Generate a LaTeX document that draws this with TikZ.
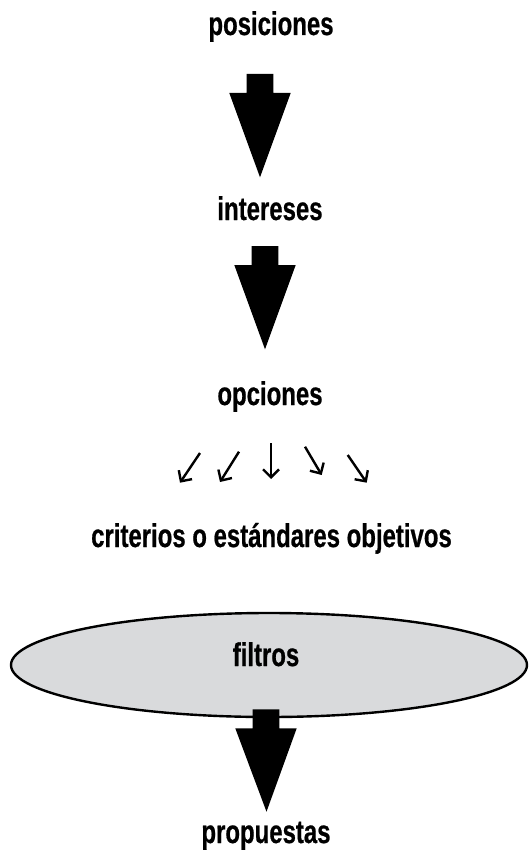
\documentclass[tikz,border=0pt]{standalone}
\usepackage{fontspec}
\newfontfamily\labelfont{Liberation Sans}[FakeStretch=0.73,FakeBold=0.6]
\usetikzlibrary{arrows.meta,calc,shapes.geometric}
\definecolor{filtgray}{RGB}{217,218,220}
\tikzset{
  lbl/.style={font=\labelfont\bfseries\fontsize{32.8}{36}\selectfont, inner sep=0pt, anchor=base},
  smallarr/.style={line width=2.4pt, -{Straight Barb[length=8pt,width=16pt]}},
  filtbox/.style={ellipse, draw, line width=2.4pt, fill=filtgray, minimum width=516pt, minimum height=104pt, inner sep=0pt}
}
% block arrow: top of shaft at #1, tip at #2
\newcommand{\blockarrow}[2]{%
  \fill ($(#1)+(-13.3,0)$) -- ($(#1)+(13.3,0)$) -- ($(#1)+(13.3,19)$) -- ($(#1)+(30.7,19)$)
    -- (#2) -- ($(#1)+(-30.7,19)$) -- ($(#1)+(-13.3,19)$) -- cycle;}

\begin{document}
\begin{tikzpicture}[x=1pt, y=-1pt]
\useasboundingbox (0,0) rectangle (529,850);

% Labels
\node[lbl] (pos) at (271,35) {posiciones};
\node[lbl] (int) at (270,220) {intereses};
\node[lbl] (opc) at (270,405) {opciones};
\node[lbl] (crit) at (271.5,547) {criterios o estándares objetivos};

% Filter ellipse
\node[filtbox] (filt) at (269,665) {};
\node[lbl] (filtlbl) at (266,666) {filtros};
\node[lbl] (prop) at (266,843) {propuestas};

% Block arrows
\coordinate (a1top) at (260,74);   \coordinate (a1tip) at (260,177.3);
\coordinate (a2top) at (265,246);  \coordinate (a2tip) at (265,349.3);
\coordinate (a3top) at (266,709.3);\coordinate (a3tip) at (266.5,811.7);
\blockarrow{a1top}{a1tip}
\blockarrow{a2top}{a2tip}
\blockarrow{a3top}{a3tip}

% Fan of small arrows
\foreach \sx/\sy/\ex/\ey in {200/453/180/482.7, 239/451.7/220/482, 271/443/271/479,
  305/446.7/321.7/475, 347.7/455/366.7/482.7}
  \draw[smallarr] (\sx,\sy) -- (\ex,\ey);
\end{tikzpicture}
\end{document}
